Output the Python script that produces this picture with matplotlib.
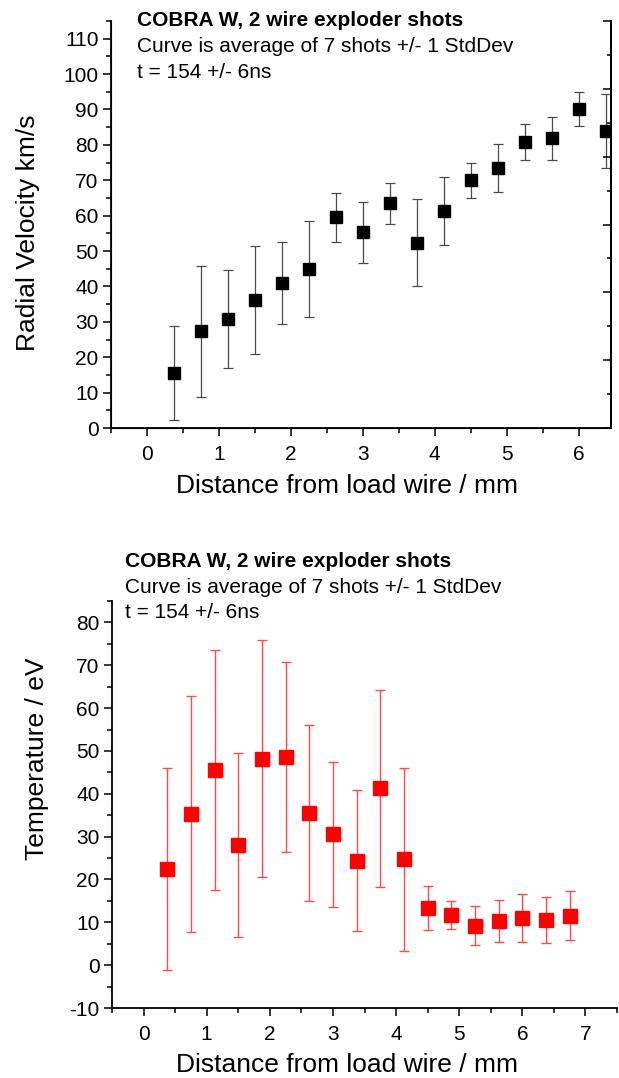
import matplotlib.pyplot as plt
from matplotlib.ticker import MultipleLocator, NullFormatter

plt.rcParams["font.family"] = ["Liberation Sans", "DejaVu Sans"]
plt.rcParams["axes.unicode_minus"] = False

# Radial velocity (km/s) vs distance from load wire (mm)
VEL_X = [0.375, 0.75, 1.125, 1.5, 1.875, 2.25, 2.625, 3.0, 3.375, 3.75,
         4.125, 4.5, 4.875, 5.25, 5.625, 6.0, 6.375]
VEL_Y = [15.5, 27.3, 30.8, 36.2, 40.9, 44.9, 59.5, 55.3, 63.5, 52.4,
         61.3, 70.0, 73.5, 80.9, 81.8, 90.1, 83.9]
VEL_ERR = [13.2, 18.6, 13.8, 15.3, 11.6, 13.6, 7.0, 8.6, 5.8, 12.2,
           9.6, 4.9, 6.7, 5.1, 6.2, 4.7, 10.5]

# Temperature (eV) vs distance from load wire (mm)
TEMP_X = [0.375, 0.75, 1.125, 1.5, 1.875, 2.25, 2.625, 3.0, 3.375, 3.75,
          4.125, 4.5, 4.875, 5.25, 5.625, 6.0, 6.375, 6.75]
TEMP_Y = [22.5, 35.3, 45.5, 28.1, 48.2, 48.6, 35.5, 30.5, 24.4, 41.3,
          24.7, 13.4, 11.7, 9.2, 10.3, 11.0, 10.5, 11.5]
TEMP_ERR = [23.6, 27.5, 28.0, 21.5, 27.7, 22.1, 20.5, 17.0, 16.5, 23.0,
            21.3, 5.1, 3.2, 4.5, 4.8, 5.7, 5.4, 5.7]

ANNOT = ["COBRA W, 2 wire exploder shots",
         "Curve is average of 7 shots +/- 1 StdDev",
         "t = 154 +/- 6ns"]

W, H = 619, 1078


def style_axis(ax):
    ax.xaxis.set_major_locator(MultipleLocator(1))
    ax.xaxis.set_minor_locator(MultipleLocator(0.5))
    ax.yaxis.set_major_locator(MultipleLocator(10))
    ax.yaxis.set_minor_locator(MultipleLocator(5))
    ax.tick_params(which="major", direction="out", length=6, width=1.1,
                   labelsize=15, color="black")
    ax.tick_params(which="minor", direction="out", length=3.5, width=1.1)
    ax.tick_params(axis="x", pad=6)
    ax.tick_params(axis="y", pad=3)
    ax.spines["top"].set_visible(False)
    for s in ["left", "bottom", "right"]:
        ax.spines[s].set_linewidth(1.3)


fig = plt.figure(figsize=(W / 100, H / 100), dpi=100)

# ---- top panel ----
ax1 = fig.add_axes([111 / W, 1 - 428 / H, (611 - 111) / W, (428 - 21) / H])
ax1.errorbar(VEL_X, VEL_Y, yerr=VEL_ERR, fmt="s", color="black",
             ecolor="#4a4a4a", elinewidth=0.9, capsize=3.6, capthick=0.9,
             markersize=9)
ax1.set_xlim(-0.5, 6.45)
ax1.set_ylim(0, 115)
style_axis(ax1)
ax1.set_xticks(range(0, 7))
ax1.set_xlabel("Distance from load wire / mm", fontsize=19)
ax1.set_ylabel("Radial Velocity km/s", fontsize=19)
ax1.xaxis.set_label_coords(0.473, -0.113)
ax1.yaxis.set_label_coords(-0.142, 0.48)

# right-hand axis carries only ticks (own scale, no labels)
ax1r = ax1.twinx()
ax1r.set_ylim(0, 120)
ax1r.yaxis.set_major_locator(MultipleLocator(20))
ax1r.yaxis.set_minor_locator(MultipleLocator(10))
ax1r.yaxis.set_major_formatter(NullFormatter())
ax1r.tick_params(which="major", direction="in", length=6, width=1.1)
ax1r.tick_params(which="minor", direction="in", length=3, width=1.1)
ax1r.spines["top"].set_visible(False)
ax1r.spines["right"].set_linewidth(1.3)

for text, yp, bold in zip(ANNOT, [21, 46.7, 72.3], [True, False, False]):
    fig.text(137 / W, 1 - yp / H, text, fontsize=15, ha="left", va="center",
             fontweight="bold" if bold else "normal")

# ---- bottom panel ----
ax2 = fig.add_axes([112 / W, 1 - 1008 / H, (617 - 112) / W, (1008 - 601) / H])
ax2.errorbar(TEMP_X, TEMP_Y, yerr=TEMP_ERR, fmt="s", color="#ff0000",
             ecolor="#ff4a4a", elinewidth=1.0, capsize=3.6, capthick=1.0,
             markersize=9.5)
ax2.set_xlim(-0.5, 7.5)
ax2.set_ylim(-10, 85)
style_axis(ax2)
ax2.spines["right"].set_visible(False)
ax2.set_xticks(range(0, 8))
ax2.set_xlabel("Distance from load wire / mm", fontsize=19)
ax2.set_ylabel("Temperature / eV", fontsize=19)
ax2.xaxis.set_label_coords(0.466, -0.11)
ax2.yaxis.set_label_coords(-0.124, 0.612)

for text, yp, bold in zip(ANNOT, [561.7, 587.7, 613], [True, False, False]):
    fig.text(125 / W, 1 - yp / H, text, fontsize=15, ha="left", va="center",
             fontweight="bold" if bold else "normal")

fig.savefig("out.png", dpi=100)
